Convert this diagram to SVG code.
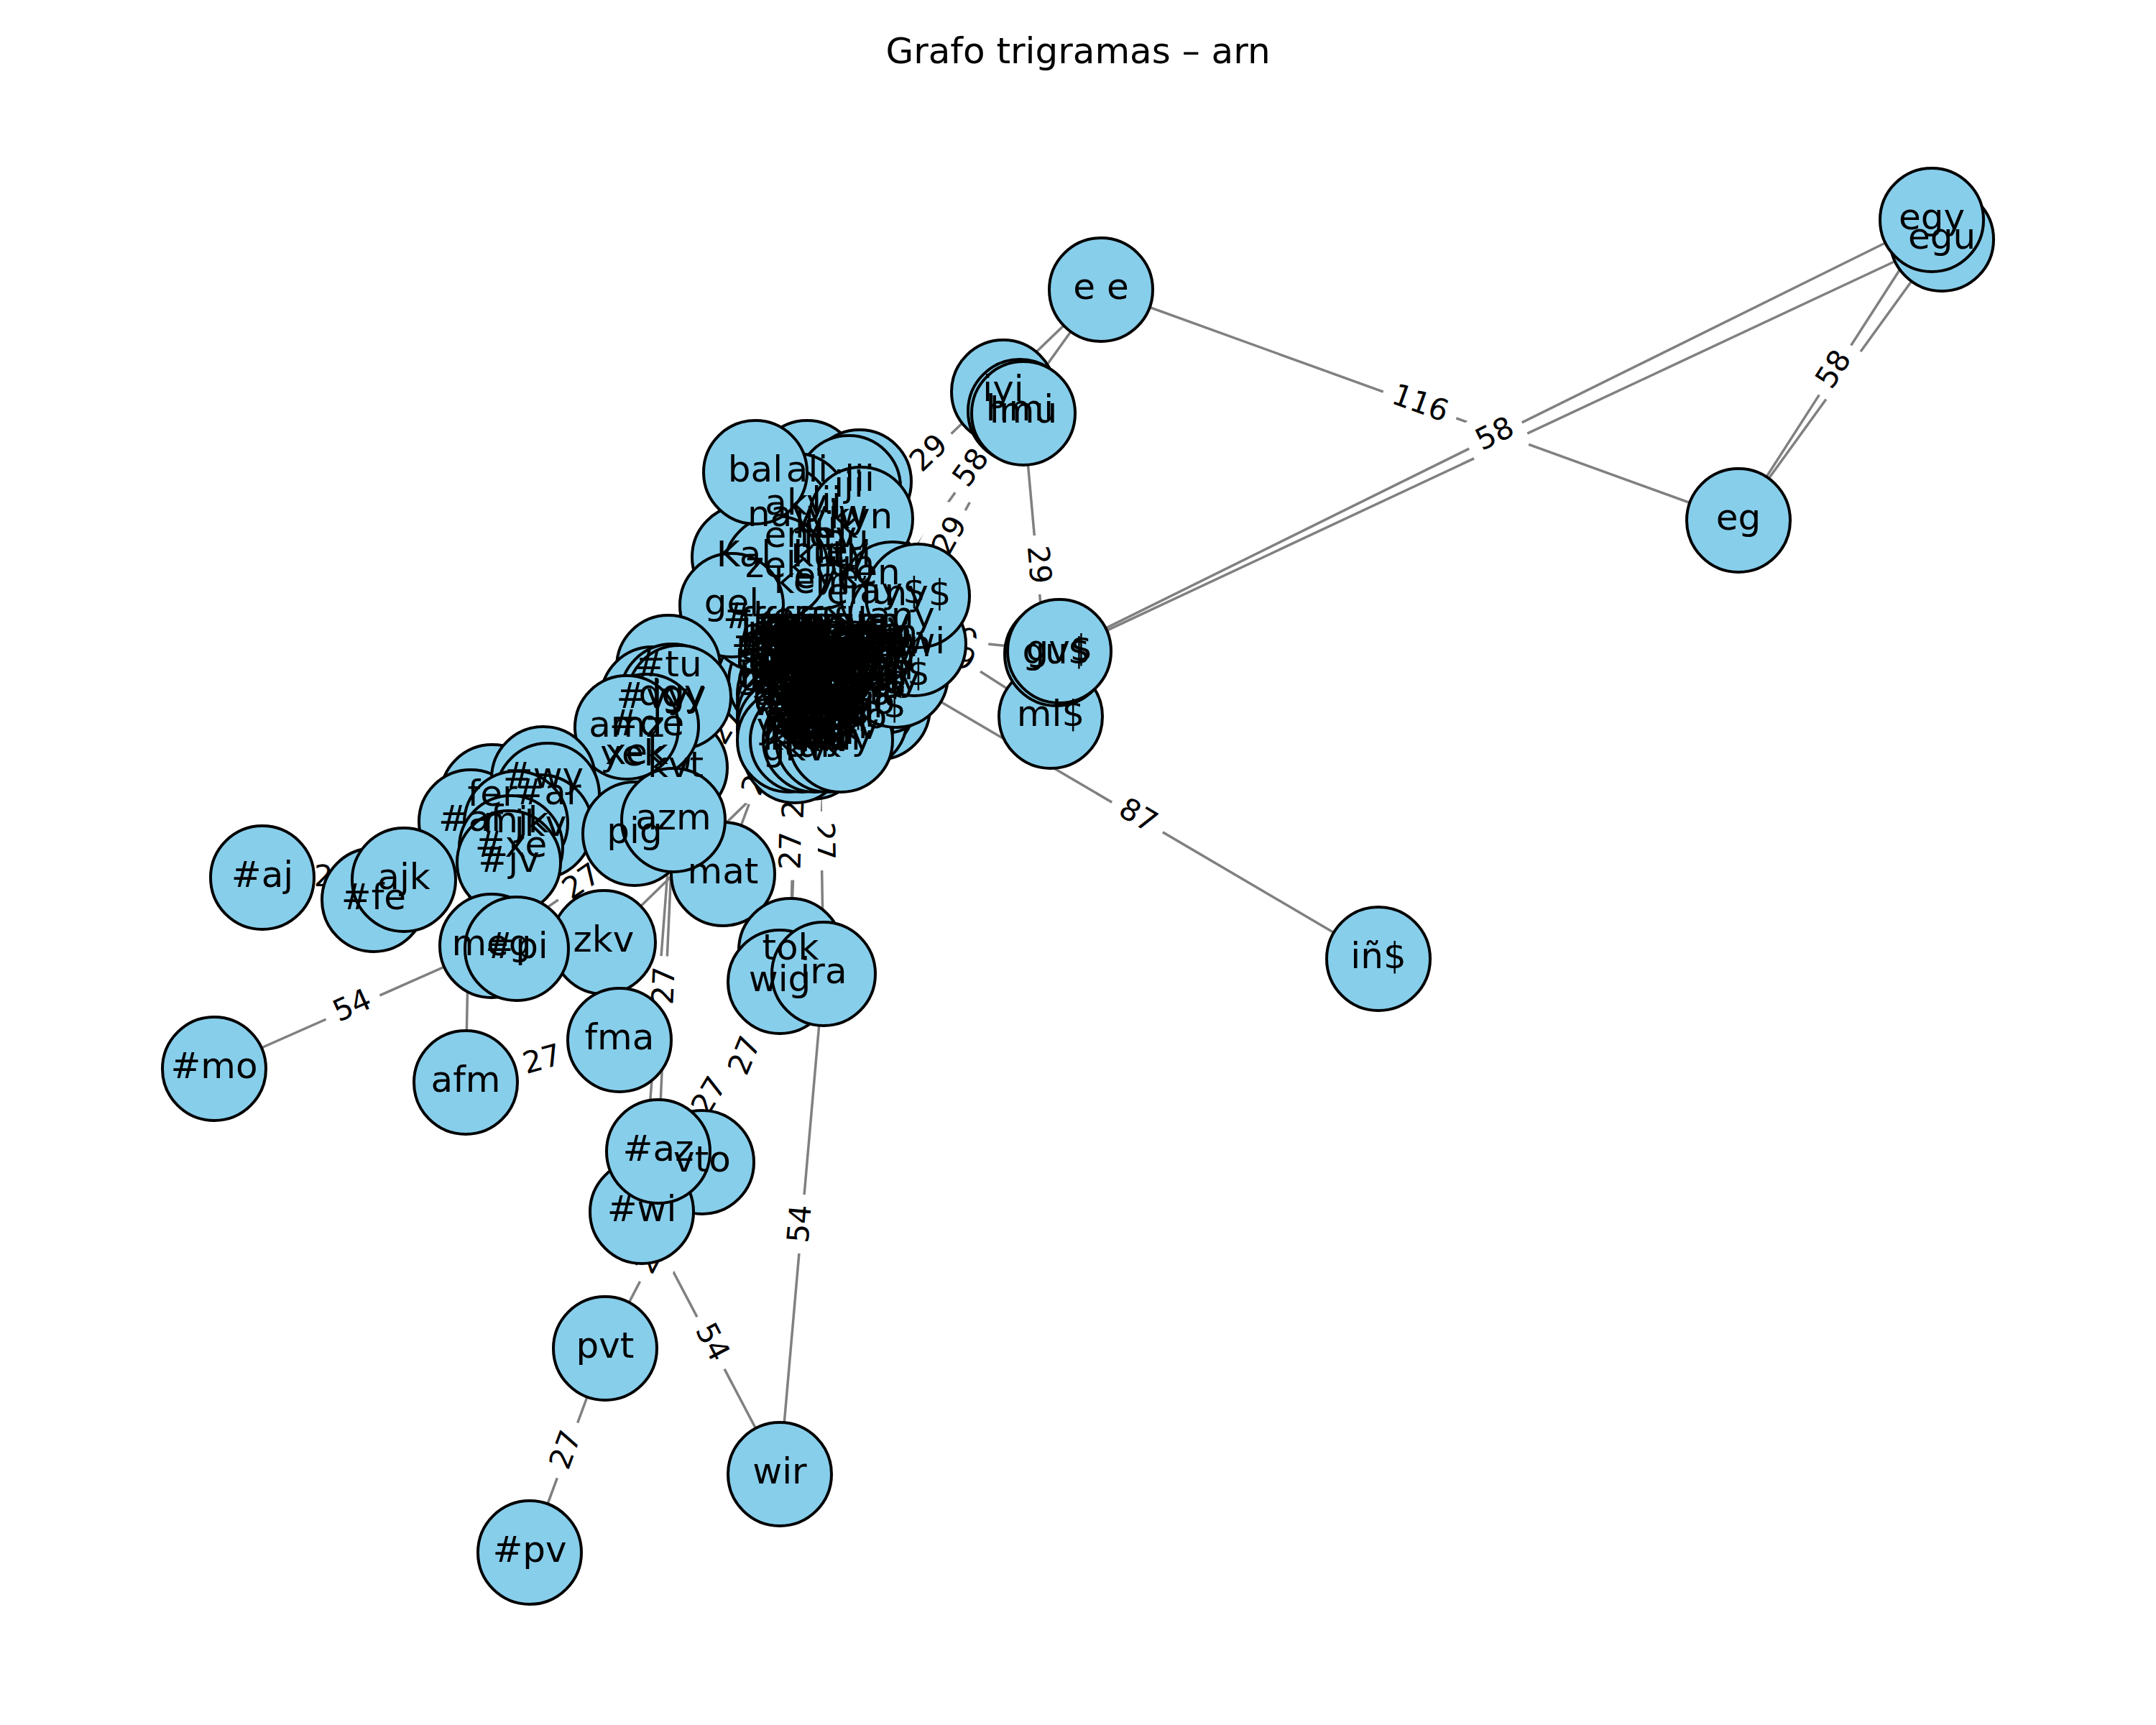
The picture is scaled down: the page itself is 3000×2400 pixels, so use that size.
<svg xmlns="http://www.w3.org/2000/svg" width="3000" height="2400" viewBox="0 0 3000 2400">
<style>
.e line{stroke:#808080;stroke-width:3.5;fill:none}
.el rect{fill:#fff;stroke:#fff;stroke-width:4}
.el text{font-family:"DejaVu Sans","Liberation Sans",sans-serif;font-size:41.7px;text-anchor:middle;fill:#000}
.n circle{fill:#87ceeb;stroke:#000;stroke-width:4}
.nl text{font-family:"DejaVu Sans","Liberation Sans",sans-serif;font-size:50px;text-anchor:middle;fill:#000}
.title{font-family:"DejaVu Sans","Liberation Sans",sans-serif;font-size:50px;text-anchor:middle;fill:#000}
</style>
<rect width="3000" height="2400" fill="#fff"/>
<text class="title" x="1500" y="88">Grafo trigramas – arn</text>

<g id="edges" class="e">
<line x1="1532" y1="403" x2="2419" y2="724"/>
<line x1="1474" y1="906" x2="2688" y2="306"/>
<line x1="1470" y1="910" x2="2702" y2="333"/>
<line x1="2419" y1="724" x2="2688" y2="306"/>
<line x1="2419" y1="724" x2="2702" y2="333"/>
<line x1="1532" y1="403" x2="1056" y2="861"/>
<line x1="1532" y1="403" x2="1174" y2="901"/>
<line x1="1419" y1="572" x2="1228" y2="920"/>
<line x1="1424" y1="575" x2="1462" y2="997"/>
<line x1="1195" y1="878" x2="1474" y2="906"/>
<line x1="1197" y1="827" x2="1462" y2="997"/>
<line x1="1247" y1="940" x2="1918" y2="1334"/>
<line x1="365" y1="1221" x2="562" y2="1224"/>
<line x1="298" y1="1487" x2="684" y2="1316"/>
<line x1="648" y1="1506" x2="655" y2="1143"/>
<line x1="648" y1="1506" x2="862" y2="1447"/>
<line x1="684" y1="1316" x2="937" y2="1141"/>
<line x1="916" y1="1602" x2="937" y2="1141"/>
<line x1="893" y1="1686" x2="940" y2="1068"/>
<line x1="977" y1="1617" x2="1100" y2="1322"/>
<line x1="893" y1="1686" x2="1085" y2="1366"/>
<line x1="842" y1="1876" x2="977" y2="1617"/>
<line x1="737" y1="2160" x2="842" y2="1876"/>
<line x1="893" y1="1686" x2="1085" y2="2051"/>
<line x1="1146" y1="1355" x2="1085" y2="2051"/>
<line x1="1140" y1="985" x2="1146" y2="1355"/>
<line x1="1106" y1="1045" x2="1100" y2="1322"/>
<line x1="1115" y1="904" x2="1100" y2="1322"/>
<line x1="840" y1="1311" x2="1192" y2="968"/>
<line x1="1006" y1="1216" x2="1107" y2="945"/>
<line x1="937" y1="1141" x2="1087" y2="879"/>
</g>

<g id="edge-labels" class="el">
<g transform="translate(1975.5 563.5) rotate(19.9)"><rect x="-52" y="-33" width="104" height="66" rx="12.5"/><text y="11">116</text></g>
<g transform="translate(2081 606) rotate(-26.3)"><rect x="-39" y="-33" width="78" height="66" rx="12.5"/><text y="11">58</text></g>
<g transform="translate(2553.5 515) rotate(-57.2)"><rect x="-39" y="-33" width="78" height="66" rx="12.5"/><text y="11">58</text></g>
<g transform="translate(1294 632) rotate(-43.9)"><rect x="-39" y="-33" width="78" height="66" rx="12.5"/><text y="11">29</text></g>
<g transform="translate(1353 652) rotate(-54.3)"><rect x="-39" y="-33" width="78" height="66" rx="12.5"/><text y="11">58</text></g>
<g transform="translate(1323.5 746) rotate(-61.2)"><rect x="-39" y="-33" width="78" height="66" rx="12.5"/><text y="11">29</text></g>
<g transform="translate(1443 786) rotate(84.9)"><rect x="-39" y="-33" width="78" height="66" rx="12.5"/><text y="11">29</text></g>
<g transform="translate(1334.5 892) rotate(5.7)"><rect x="-39" y="-33" width="78" height="66" rx="12.5"/><text y="11">29</text></g>
<g transform="translate(1329.5 912) rotate(32.7)"><rect x="-39" y="-33" width="78" height="66" rx="12.5"/><text y="11">29</text></g>
<g transform="translate(1582.5 1137) rotate(30.4)"><rect x="-39" y="-33" width="78" height="66" rx="12.5"/><text y="11">87</text></g>
<g transform="translate(463.5 1222.5) rotate(0.9)"><rect x="-39" y="-33" width="78" height="66" rx="12.5"/><text y="11">27</text></g>
<g transform="translate(491 1401.5) rotate(-23.9)"><rect x="-39" y="-33" width="78" height="66" rx="12.5"/><text y="11">54</text></g>
<g transform="translate(755 1476.5) rotate(-15.4)"><rect x="-39" y="-33" width="78" height="66" rx="12.5"/><text y="11">27</text></g>
<g transform="translate(810.5 1228.5) rotate(-34.7)"><rect x="-39" y="-33" width="78" height="66" rx="12.5"/><text y="11">27</text></g>
<g transform="translate(926.5 1371.5) rotate(-87.4)"><rect x="-39" y="-33" width="78" height="66" rx="12.5"/><text y="11">27</text></g>
<g transform="translate(1038.5 1469.5) rotate(-67.4)"><rect x="-39" y="-33" width="78" height="66" rx="12.5"/><text y="11">27</text></g>
<g transform="translate(989 1526) rotate(-59)"><rect x="-39" y="-33" width="78" height="66" rx="12.5"/><text y="11">27</text></g>
<g transform="translate(909.5 1746.5) rotate(-62.5)"><rect x="-39" y="-33" width="78" height="66" rx="12.5"/><text y="11">27</text></g>
<g transform="translate(789.5 2018) rotate(-69.7)"><rect x="-39" y="-33" width="78" height="66" rx="12.5"/><text y="11">27</text></g>
<g transform="translate(989 1868.5) rotate(62.3)"><rect x="-39" y="-33" width="78" height="66" rx="12.5"/><text y="11">54</text></g>
<g transform="translate(1115.5 1703) rotate(-85)"><rect x="-39" y="-33" width="78" height="66" rx="12.5"/><text y="11">54</text></g>
<g transform="translate(1143 1170) rotate(89.1)"><rect x="-39" y="-33" width="78" height="66" rx="12.5"/><text y="11">27</text></g>
<g transform="translate(1103 1183.5) rotate(-88.8)"><rect x="-39" y="-33" width="78" height="66" rx="12.5"/><text y="11">27</text></g>
<g transform="translate(1107.5 1113) rotate(-87.9)"><rect x="-39" y="-33" width="78" height="66" rx="12.5"/><text y="11">27</text></g>
<g transform="translate(1056.5 1080.5) rotate(-69.6)"><rect x="-39" y="-33" width="78" height="66" rx="12.5"/><text y="11">27</text></g>
<g transform="translate(1012 1010) rotate(-60.2)"><rect x="-39" y="-33" width="78" height="66" rx="12.5"/><text y="11">27</text></g>
</g>

<g id="nodes">
<g id="n-nga" class="n"><circle cx="1087" cy="879" r="72"/></g>
<g id="n-che" class="n"><circle cx="1100" cy="870" r="72"/></g>
<g id="n-ngu" class="n"><circle cx="1125" cy="876" r="72"/></g>
<g id="n-mew" class="n"><circle cx="1160" cy="872" r="72"/></g>
<g id="n-fey" class="n"><circle cx="1195" cy="878" r="72"/></g>
<g id="n-ley" class="n"><circle cx="1228" cy="875" r="72"/></g>
<g id="n-Hch" class="n"><circle cx="1068" cy="897" r="72"/></g>
<g id="n-wen" class="n"><circle cx="1115" cy="904" r="72"/></g>
<g id="n-tun" class="n"><circle cx="1174" cy="901" r="72"/></g>
<g id="n-pun" class="n"><circle cx="1205" cy="895" r="72"/></g>
<g id="n-mun" class="n"><circle cx="1240" cy="900" r="72"/></g>
<g id="n-ele" class="n"><circle cx="1062" cy="921" r="72"/></g>
<g id="n-nge" class="n"><circle cx="1098" cy="922" r="72"/></g>
<g id="n-ema" class="n"><circle cx="1135" cy="925" r="72"/></g>
<g id="n-eyu" class="n"><circle cx="1228" cy="920" r="72"/></g>
<g id="n-amu" class="n"><circle cx="1165" cy="930" r="72"/></g>
<g id="n-gem" class="n"><circle cx="1080" cy="944" r="72"/></g>
<g id="n-ple" class="n"><circle cx="1107" cy="945" r="72"/></g>
<g id="n-lle" class="n"><circle cx="1145" cy="948" r="72"/></g>
<g id="n-fil" class="n"><circle cx="1182" cy="950" r="72"/></g>
<g id="n-enS" class="n"><circle cx="1215" cy="952" r="72"/></g>
<g id="n-tew" class="n"><circle cx="1092" cy="968" r="72"/></g>
<g id="n-nie" class="n"><circle cx="1125" cy="970" r="72"/></g>
<g id="n-unS" class="n"><circle cx="1192" cy="968" r="72"/></g>
<g id="n-mal" class="n"><circle cx="1160" cy="972" r="72"/></g>
<g id="n-kim" class="n"><circle cx="1140" cy="985" r="72"/></g>
<g id="n-tak" class="n"><circle cx="1105" cy="992" r="72"/></g>
<g id="n-elS" class="n"><circle cx="1172" cy="995" r="72"/></g>
<g id="n-niS" class="n"><circle cx="1222" cy="985" r="72"/></g>
<g id="n-igk" class="n"><circle cx="1108" cy="1012" r="72"/></g>
<g id="n-ruf" class="n"><circle cx="1145" cy="1010" r="72"/></g>
<g id="n-ukv" class="n"><circle cx="1178" cy="1015" r="72"/></g>
<g id="n-kiv" class="n"><circle cx="1150" cy="1032" r="72"/></g>
<g id="n-tuk" class="n"><circle cx="1130" cy="1040" r="72"/></g>
<g id="n-gkv" class="n"><circle cx="1106" cy="1045" r="72"/></g>
<g id="n-aka" class="n"><circle cx="1080" cy="882" r="72"/></g>
<g id="n-ake" class="n"><circle cx="1100" cy="888" r="72"/></g>
<g id="n-aki" class="n"><circle cx="1120" cy="882" r="72"/></g>
<g id="n-ako" class="n"><circle cx="1140" cy="888" r="72"/></g>
<g id="n-aku" class="n"><circle cx="1160" cy="882" r="72"/></g>
<g id="n-ama" class="n"><circle cx="1180" cy="888" r="72"/></g>
<g id="n-ame" class="n"><circle cx="1200" cy="882" r="72"/></g>
<g id="n-ami" class="n"><circle cx="1220" cy="888" r="72"/></g>
<g id="n-amo" class="n"><circle cx="1085" cy="905" r="72"/></g>
<g id="n-ana" class="n"><circle cx="1105" cy="910" r="72"/></g>
<g id="n-ane" class="n"><circle cx="1125" cy="905" r="72"/></g>
<g id="n-ani" class="n"><circle cx="1145" cy="910" r="72"/></g>
<g id="n-ano" class="n"><circle cx="1165" cy="905" r="72"/></g>
<g id="n-anu" class="n"><circle cx="1185" cy="910" r="72"/></g>
<g id="n-apa" class="n"><circle cx="1205" cy="905" r="72"/></g>
<g id="n-ape" class="n"><circle cx="1225" cy="910" r="72"/></g>
<g id="n-api" class="n"><circle cx="1080" cy="928" r="72"/></g>
<g id="n-apo" class="n"><circle cx="1100" cy="933" r="72"/></g>
<g id="n-apu" class="n"><circle cx="1120" cy="928" r="72"/></g>
<g id="n-ara" class="n"><circle cx="1140" cy="933" r="72"/></g>
<g id="n-are" class="n"><circle cx="1160" cy="928" r="72"/></g>
<g id="n-ari" class="n"><circle cx="1180" cy="933" r="72"/></g>
<g id="n-aro" class="n"><circle cx="1200" cy="928" r="72"/></g>
<g id="n-aru" class="n"><circle cx="1220" cy="933" r="72"/></g>
<g id="n-ata" class="n"><circle cx="1090" cy="952" r="72"/></g>
<g id="n-ate" class="n"><circle cx="1110" cy="957" r="72"/></g>
<g id="n-ati" class="n"><circle cx="1130" cy="952" r="72"/></g>
<g id="n-ato" class="n"><circle cx="1150" cy="957" r="72"/></g>
<g id="n-atu" class="n"><circle cx="1170" cy="952" r="72"/></g>
<g id="n-awa" class="n"><circle cx="1190" cy="957" r="72"/></g>
<g id="n-awe" class="n"><circle cx="1210" cy="952" r="72"/></g>
<g id="n-awo" class="n"><circle cx="1100" cy="976" r="72"/></g>
<g id="n-awu" class="n"><circle cx="1120" cy="980" r="72"/></g>
<g id="n-aya" class="n"><circle cx="1140" cy="976" r="72"/></g>
<g id="n-aye" class="n"><circle cx="1160" cy="980" r="72"/></g>
<g id="n-ayi" class="n"><circle cx="1180" cy="976" r="72"/></g>
<g id="n-ayo" class="n"><circle cx="1200" cy="980" r="72"/></g>
<g id="n-ayu" class="n"><circle cx="1110" cy="1000" r="72"/></g>
<g id="n-eka" class="n"><circle cx="1130" cy="1004" r="72"/></g>
<g id="n-eke" class="n"><circle cx="1150" cy="1000" r="72"/></g>
<g id="n-eki" class="n"><circle cx="1170" cy="1004" r="72"/></g>
<g id="n-eko" class="n"><circle cx="1190" cy="1000" r="72"/></g>
<g id="n-eku" class="n"><circle cx="1120" cy="1022" r="72"/></g>
<g id="n-ela" class="n"><circle cx="1140" cy="1026" r="72"/></g>
<g id="n-eli" class="n"><circle cx="1160" cy="1022" r="72"/></g>
<g id="n-fan" class="n"><circle cx="1070" cy="868" r="72"/></g>
<g id="n-fay" class="n"><circle cx="1086" cy="868" r="72"/></g>
<g id="n-fen" class="n"><circle cx="1102" cy="868" r="72"/></g>
<g id="n-fin" class="n"><circle cx="1118" cy="868" r="72"/></g>
<g id="n-fiy" class="n"><circle cx="1134" cy="868" r="72"/></g>
<g id="n-fon" class="n"><circle cx="1150" cy="868" r="72"/></g>
<g id="n-foy" class="n"><circle cx="1166" cy="868" r="72"/></g>
<g id="n-fun" class="n"><circle cx="1182" cy="868" r="72"/></g>
<g id="n-fuy" class="n"><circle cx="1198" cy="868" r="72"/></g>
<g id="n-lan" class="n"><circle cx="1214" cy="868" r="72"/></g>
<g id="n-lay" class="n"><circle cx="1230" cy="868" r="72"/></g>
<g id="n-len" class="n"><circle cx="1070" cy="884" r="72"/></g>
<g id="n-lin" class="n"><circle cx="1086" cy="884" r="72"/></g>
<g id="n-liy" class="n"><circle cx="1102" cy="884" r="72"/></g>
<g id="n-lon" class="n"><circle cx="1118" cy="884" r="72"/></g>
<g id="n-loy" class="n"><circle cx="1134" cy="884" r="72"/></g>
<g id="n-lun" class="n"><circle cx="1150" cy="884" r="72"/></g>
<g id="n-luy" class="n"><circle cx="1166" cy="884" r="72"/></g>
<g id="n-man" class="n"><circle cx="1182" cy="884" r="72"/></g>
<g id="n-may" class="n"><circle cx="1198" cy="884" r="72"/></g>
<g id="n-men" class="n"><circle cx="1214" cy="884" r="72"/></g>
<g id="n-min" class="n"><circle cx="1230" cy="884" r="72"/></g>
<g id="n-miy" class="n"><circle cx="1070" cy="900" r="72"/></g>
<g id="n-mon" class="n"><circle cx="1086" cy="900" r="72"/></g>
<g id="n-moy" class="n"><circle cx="1102" cy="900" r="72"/></g>
<g id="n-muy" class="n"><circle cx="1118" cy="900" r="72"/></g>
<g id="n-nan" class="n"><circle cx="1134" cy="900" r="72"/></g>
<g id="n-nen" class="n"><circle cx="1150" cy="900" r="72"/></g>
<g id="n-ney" class="n"><circle cx="1166" cy="900" r="72"/></g>
<g id="n-nin" class="n"><circle cx="1182" cy="900" r="72"/></g>
<g id="n-niy" class="n"><circle cx="1198" cy="900" r="72"/></g>
<g id="n-non" class="n"><circle cx="1214" cy="900" r="72"/></g>
<g id="n-noy" class="n"><circle cx="1230" cy="900" r="72"/></g>
<g id="n-nun" class="n"><circle cx="1070" cy="916" r="72"/></g>
<g id="n-nuy" class="n"><circle cx="1086" cy="916" r="72"/></g>
<g id="n-pan" class="n"><circle cx="1102" cy="916" r="72"/></g>
<g id="n-pay" class="n"><circle cx="1118" cy="916" r="72"/></g>
<g id="n-pen" class="n"><circle cx="1134" cy="916" r="72"/></g>
<g id="n-pey" class="n"><circle cx="1150" cy="916" r="72"/></g>
<g id="n-pin" class="n"><circle cx="1166" cy="916" r="72"/></g>
<g id="n-piy" class="n"><circle cx="1182" cy="916" r="72"/></g>
<g id="n-pon" class="n"><circle cx="1198" cy="916" r="72"/></g>
<g id="n-poy" class="n"><circle cx="1214" cy="916" r="72"/></g>
<g id="n-puy" class="n"><circle cx="1230" cy="916" r="72"/></g>
<g id="n-ran" class="n"><circle cx="1070" cy="932" r="72"/></g>
<g id="n-ray" class="n"><circle cx="1086" cy="932" r="72"/></g>
<g id="n-ren" class="n"><circle cx="1102" cy="932" r="72"/></g>
<g id="n-rey" class="n"><circle cx="1118" cy="932" r="72"/></g>
<g id="n-rin" class="n"><circle cx="1134" cy="932" r="72"/></g>
<g id="n-riy" class="n"><circle cx="1150" cy="932" r="72"/></g>
<g id="n-ron" class="n"><circle cx="1166" cy="932" r="72"/></g>
<g id="n-roy" class="n"><circle cx="1182" cy="932" r="72"/></g>
<g id="n-run" class="n"><circle cx="1198" cy="932" r="72"/></g>
<g id="n-ruy" class="n"><circle cx="1214" cy="932" r="72"/></g>
<g id="n-tan" class="n"><circle cx="1230" cy="932" r="72"/></g>
<g id="n-tay" class="n"><circle cx="1070" cy="948" r="72"/></g>
<g id="n-ten" class="n"><circle cx="1086" cy="948" r="72"/></g>
<g id="n-tey" class="n"><circle cx="1102" cy="948" r="72"/></g>
<g id="n-tin" class="n"><circle cx="1118" cy="948" r="72"/></g>
<g id="n-tiy" class="n"><circle cx="1134" cy="948" r="72"/></g>
<g id="n-ton" class="n"><circle cx="1150" cy="948" r="72"/></g>
<g id="n-toy" class="n"><circle cx="1166" cy="948" r="72"/></g>
<g id="n-tuy" class="n"><circle cx="1182" cy="948" r="72"/></g>
<g id="n-wan" class="n"><circle cx="1198" cy="948" r="72"/></g>
<g id="n-way" class="n"><circle cx="1214" cy="948" r="72"/></g>
<g id="n-wey" class="n"><circle cx="1230" cy="948" r="72"/></g>
<g id="n-win" class="n"><circle cx="1098" cy="966" r="72"/></g>
<g id="n-wiy" class="n"><circle cx="1116" cy="966" r="72"/></g>
<g id="n-won" class="n"><circle cx="1134" cy="966" r="72"/></g>
<g id="n-woy" class="n"><circle cx="1152" cy="966" r="72"/></g>
<g id="n-wun" class="n"><circle cx="1170" cy="966" r="72"/></g>
<g id="n-wuy" class="n"><circle cx="1098" cy="982" r="72"/></g>
<g id="n-yan" class="n"><circle cx="1116" cy="982" r="72"/></g>
<g id="n-yay" class="n"><circle cx="1134" cy="982" r="72"/></g>
<g id="n-yen" class="n"><circle cx="1152" cy="982" r="72"/></g>
<g id="n-yey" class="n"><circle cx="1170" cy="982" r="72"/></g>
<g id="n-yin" class="n"><circle cx="1098" cy="998" r="72"/></g>
<g id="n-yiy" class="n"><circle cx="1116" cy="998" r="72"/></g>
<g id="n-yon" class="n"><circle cx="1134" cy="998" r="72"/></g>
<g id="n-yoy" class="n"><circle cx="1152" cy="998" r="72"/></g>
<g id="n-yun" class="n"><circle cx="1170" cy="998" r="72"/></g>
<g id="n-yuy" class="n"><circle cx="1098" cy="1014" r="72"/></g>
<g id="n-kan" class="n"><circle cx="1116" cy="1014" r="72"/></g>
<g id="n-kay" class="n"><circle cx="1134" cy="1014" r="72"/></g>
<g id="n-key" class="n"><circle cx="1152" cy="1014" r="72"/></g>
<g id="n-kin" class="n"><circle cx="1170" cy="1014" r="72"/></g>
<g id="n-kiy" class="n"><circle cx="1098" cy="1030" r="72"/></g>
<g id="n-kon" class="n"><circle cx="1116" cy="1030" r="72"/></g>
<g id="n-koy" class="n"><circle cx="1134" cy="1030" r="72"/></g>
<g id="n-kun" class="n"><circle cx="1152" cy="1030" r="72"/></g>
<g id="n-kuy" class="n"><circle cx="1170" cy="1030" r="72"/></g>
<g id="n-lij" class="n"><circle cx="1150" cy="700" r="72"/></g>
<g id="n-yiw" class="n"><circle cx="1165" cy="718" r="72"/></g>
<g id="n-kuk" class="n"><circle cx="1150" cy="735" r="72"/></g>
<g id="n-inu" class="n"><circle cx="1170" cy="752" r="72"/></g>
<g id="n-mey" class="n"><circle cx="1155" cy="770" r="72"/></g>
<g id="n-run2" class="n"><circle cx="1175" cy="788" r="72"/></g>
<g id="n-eye" class="n"><circle cx="1150" cy="805" r="72"/></g>
<g id="n-tri" class="n"><circle cx="1185" cy="775" r="72"/></g>
<g id="n-enu" class="n"><circle cx="1197" cy="827" r="72"/></g>
<g id="n-Hke" class="n"><circle cx="1056" cy="861" r="72"/></g>
<g id="n-ene" class="n"><circle cx="1110" cy="748" r="72"/></g>
<g id="n-lev" class="n"><circle cx="1155" cy="748" r="72"/></g>
<g id="n-kem" class="n"><circle cx="1130" cy="812" r="72"/></g>
<g id="n-ken" class="n"><circle cx="1208" cy="800" r="72"/></g>
<g id="n-kui" class="n"><circle cx="1140" cy="775" r="72"/></g>
<g id="n-ali" class="n"><circle cx="1123" cy="657" r="72"/></g>
<g id="n-lii" class="n"><circle cx="1196" cy="670" r="72"/></g>
<g id="n-iji" class="n"><circle cx="1181" cy="678" r="72"/></g>
<g id="n-aky" class="n"><circle cx="1108" cy="703" r="72"/></g>
<g id="n-nay" class="n"><circle cx="1086" cy="719" r="72"/></g>
<g id="n-kyn" class="n"><circle cx="1198" cy="722" r="72"/></g>
<g id="n-Kal" class="n"><circle cx="1035" cy="775" r="72"/></g>
<g id="n-zek" class="n"><circle cx="1080" cy="790" r="72"/></g>
<g id="n-gel" class="n"><circle cx="1018" cy="842" r="72"/></g>
<g id="n-ayS" class="n"><circle cx="1242" cy="826" r="72"/></g>
<g id="n-any" class="n"><circle cx="1255" cy="860" r="72"/></g>
<g id="n-anS" class="n"><circle cx="1247" cy="940" r="72"/></g>
<g id="n-uwi" class="n"><circle cx="1272" cy="896" r="72"/></g>
<g id="n-nyS" class="n"><circle cx="1277" cy="829" r="72"/></g>
<g id="n-bal" class="n"><circle cx="1051" cy="657" r="72"/></g>
<g id="n-Htu" class="n"><circle cx="930" cy="928" r="72"/></g>
<g id="n-kvt" class="n"><circle cx="940" cy="1068" r="72"/></g>
<g id="n-xek" class="n"><circle cx="886" cy="1050" r="72"/></g>
<g id="n-yek" class="n"><circle cx="880" cy="1052" r="72"/></g>
<g id="n-Hvy" class="n"><circle cx="908" cy="972" r="72"/></g>
<g id="n-dgy" class="n"><circle cx="935" cy="968" r="72"/></g>
<g id="n-igy" class="n"><circle cx="945" cy="970" r="72"/></g>
<g id="n-Hde" class="n"><circle cx="900" cy="1010" r="72"/></g>
<g id="n-amz" class="n"><circle cx="872" cy="1012" r="72"/></g>
<g id="n-fer" class="n"><circle cx="685" cy="1108" r="72"/></g>
<g id="n-Haf" class="n"><circle cx="655" cy="1143" r="72"/></g>
<g id="n-Hwy" class="n"><circle cx="756" cy="1083" r="72"/></g>
<g id="n-Har" class="n"><circle cx="762" cy="1106" r="72"/></g>
<g id="n-jkv" class="n"><circle cx="752" cy="1150" r="72"/></g>
<g id="n-mjk" class="n"><circle cx="718" cy="1145" r="72"/></g>
<g id="n-Hxe" class="n"><circle cx="711" cy="1179" r="72"/></g>
<g id="n-Hjv" class="n"><circle cx="708" cy="1200" r="72"/></g>
<g id="n-pig" class="n"><circle cx="883" cy="1160" r="72"/></g>
<g id="n-mat" class="n"><circle cx="1006" cy="1216" r="72"/></g>
<g id="n-azm" class="n"><circle cx="937" cy="1141" r="72"/></g>
<g id="n-zkv" class="n"><circle cx="840" cy="1311" r="72"/></g>
<g id="n-meg" class="n"><circle cx="684" cy="1316" r="72"/></g>
<g id="n-Hpi" class="n"><circle cx="719" cy="1320" r="72"/></g>
<g id="n-afm" class="n"><circle cx="648" cy="1506" r="72"/></g>
<g id="n-fma" class="n"><circle cx="862" cy="1447" r="72"/></g>
<g id="n-Hmo" class="n"><circle cx="298" cy="1487" r="72"/></g>
<g id="n-Haj" class="n"><circle cx="365" cy="1221" r="72"/></g>
<g id="n-Hfe" class="n"><circle cx="520" cy="1252" r="72"/></g>
<g id="n-ajk" class="n"><circle cx="562" cy="1224" r="72"/></g>
<g id="n-tok" class="n"><circle cx="1100" cy="1322" r="72"/></g>
<g id="n-wig" class="n"><circle cx="1085" cy="1366" r="72"/></g>
<g id="n-ira" class="n"><circle cx="1146" cy="1355" r="72"/></g>
<g id="n-vto" class="n"><circle cx="977" cy="1617" r="72"/></g>
<g id="n-Hwi" class="n"><circle cx="893" cy="1686" r="72"/></g>
<g id="n-Haz" class="n"><circle cx="916" cy="1602" r="72"/></g>
<g id="n-pvt" class="n"><circle cx="842" cy="1876" r="72"/></g>
<g id="n-Hpv" class="n"><circle cx="737" cy="2160" r="72"/></g>
<g id="n-wir" class="n"><circle cx="1085" cy="2051" r="72"/></g>
<g id="n-iyi" class="n"><circle cx="1396" cy="545" r="72"/></g>
<g id="n-hmi" class="n"><circle cx="1419" cy="572" r="72"/></g>
<g id="n-lmu" class="n"><circle cx="1424" cy="575" r="72"/></g>
<g id="n-ee" class="n"><circle cx="1532" cy="403" r="72"/></g>
<g id="n-mlS" class="n"><circle cx="1462" cy="997" r="72"/></g>
<g id="n-guS" class="n"><circle cx="1470" cy="910" r="72"/></g>
<g id="n-gvS" class="n"><circle cx="1474" cy="906" r="72"/></g>
<g id="n-inS" class="n"><circle cx="1918" cy="1334" r="72"/></g>
<g id="n-eg" class="n"><circle cx="2419" cy="724" r="72"/></g>
<g id="n-egu" class="n"><circle cx="2702" cy="333" r="72"/></g>
<g id="n-egy" class="n"><circle cx="2688" cy="306" r="72"/></g>
</g>

<g id="node-labels" class="nl">
<text x="1087" y="892">nga</text>
<text x="1100" y="883">che</text>
<text x="1125" y="889">ngu</text>
<text x="1160" y="885">mew</text>
<text x="1195" y="891">fey</text>
<text x="1228" y="888">ley</text>
<text x="1068" y="910">#ch</text>
<text x="1115" y="917">wen</text>
<text x="1174" y="914">tun</text>
<text x="1205" y="908">pun</text>
<text x="1240" y="913">mun</text>
<text x="1062" y="934">ele</text>
<text x="1098" y="935">nge</text>
<text x="1135" y="938">ema</text>
<text x="1228" y="933">eyu</text>
<text x="1165" y="943">amu</text>
<text x="1080" y="957">gem</text>
<text x="1107" y="958">ple</text>
<text x="1145" y="961">lle</text>
<text x="1182" y="963">fil</text>
<text x="1215" y="965">en$</text>
<text x="1092" y="981">tew</text>
<text x="1125" y="983">nie</text>
<text x="1192" y="981">un$</text>
<text x="1160" y="985">mal</text>
<text x="1140" y="998">kim</text>
<text x="1105" y="1005">tak</text>
<text x="1172" y="1008">el$</text>
<text x="1222" y="998">ñi$</text>
<text x="1108" y="1025">igk</text>
<text x="1145" y="1023">rüf</text>
<text x="1178" y="1028">ukv</text>
<text x="1150" y="1045">kiv</text>
<text x="1130" y="1053">tuk</text>
<text x="1106" y="1058">gkv</text>
<text x="1080" y="895">aka</text>
<text x="1100" y="901">ake</text>
<text x="1120" y="895">aki</text>
<text x="1140" y="901">ako</text>
<text x="1160" y="895">aku</text>
<text x="1180" y="901">ama</text>
<text x="1200" y="895">ame</text>
<text x="1220" y="901">ami</text>
<text x="1085" y="918">amo</text>
<text x="1105" y="923">ana</text>
<text x="1125" y="918">ane</text>
<text x="1145" y="923">ani</text>
<text x="1165" y="918">ano</text>
<text x="1185" y="923">anu</text>
<text x="1205" y="918">apa</text>
<text x="1225" y="923">ape</text>
<text x="1080" y="941">api</text>
<text x="1100" y="946">apo</text>
<text x="1120" y="941">apu</text>
<text x="1140" y="946">ara</text>
<text x="1160" y="941">are</text>
<text x="1180" y="946">ari</text>
<text x="1200" y="941">aro</text>
<text x="1220" y="946">aru</text>
<text x="1090" y="965">ata</text>
<text x="1110" y="970">ate</text>
<text x="1130" y="965">ati</text>
<text x="1150" y="970">ato</text>
<text x="1170" y="965">atu</text>
<text x="1190" y="970">awa</text>
<text x="1210" y="965">awe</text>
<text x="1100" y="989">awo</text>
<text x="1120" y="993">awu</text>
<text x="1140" y="989">aya</text>
<text x="1160" y="993">aye</text>
<text x="1180" y="989">ayi</text>
<text x="1200" y="993">ayo</text>
<text x="1110" y="1013">ayu</text>
<text x="1130" y="1017">eka</text>
<text x="1150" y="1013">eke</text>
<text x="1170" y="1017">eki</text>
<text x="1190" y="1013">eko</text>
<text x="1120" y="1035">eku</text>
<text x="1140" y="1039">ela</text>
<text x="1160" y="1035">eli</text>
<text x="1070" y="881">fan</text><text x="1086" y="881">fay</text><text x="1102" y="881">fen</text><text x="1118" y="881">fin</text><text x="1134" y="881">fiy</text><text x="1150" y="881">fon</text><text x="1166" y="881">foy</text><text x="1182" y="881">fun</text><text x="1198" y="881">fuy</text><text x="1214" y="881">lan</text><text x="1230" y="881">lay</text>
<text x="1070" y="897">len</text><text x="1086" y="897">lin</text><text x="1102" y="897">liy</text><text x="1118" y="897">lon</text><text x="1134" y="897">loy</text><text x="1150" y="897">lun</text><text x="1166" y="897">luy</text><text x="1182" y="897">man</text><text x="1198" y="897">may</text><text x="1214" y="897">men</text><text x="1230" y="897">min</text>
<text x="1070" y="913">miy</text><text x="1086" y="913">mon</text><text x="1102" y="913">moy</text><text x="1118" y="913">muy</text><text x="1134" y="913">nan</text><text x="1150" y="913">nen</text><text x="1166" y="913">ney</text><text x="1182" y="913">nin</text><text x="1198" y="913">niy</text><text x="1214" y="913">non</text><text x="1230" y="913">noy</text>
<text x="1070" y="929">nun</text><text x="1086" y="929">nuy</text><text x="1102" y="929">pan</text><text x="1118" y="929">pay</text><text x="1134" y="929">pen</text><text x="1150" y="929">pey</text><text x="1166" y="929">pin</text><text x="1182" y="929">piy</text><text x="1198" y="929">pon</text><text x="1214" y="929">poy</text><text x="1230" y="929">puy</text>
<text x="1070" y="945">ran</text><text x="1086" y="945">ray</text><text x="1102" y="945">ren</text><text x="1118" y="945">rey</text><text x="1134" y="945">rin</text><text x="1150" y="945">riy</text><text x="1166" y="945">ron</text><text x="1182" y="945">roy</text><text x="1198" y="945">run</text><text x="1214" y="945">ruy</text><text x="1230" y="945">tan</text>
<text x="1070" y="961">tay</text><text x="1086" y="961">ten</text><text x="1102" y="961">tey</text><text x="1118" y="961">tin</text><text x="1134" y="961">tiy</text><text x="1150" y="961">ton</text><text x="1166" y="961">toy</text><text x="1182" y="961">tuy</text><text x="1198" y="961">wan</text><text x="1214" y="961">way</text><text x="1230" y="961">wey</text>
<text x="1098" y="979">win</text><text x="1116" y="979">wiy</text><text x="1134" y="979">won</text><text x="1152" y="979">woy</text><text x="1170" y="979">wun</text>
<text x="1098" y="995">wuy</text><text x="1116" y="995">yan</text><text x="1134" y="995">yay</text><text x="1152" y="995">yen</text><text x="1170" y="995">yey</text>
<text x="1098" y="1011">yin</text><text x="1116" y="1011">yiy</text><text x="1134" y="1011">yon</text><text x="1152" y="1011">yoy</text><text x="1170" y="1011">yun</text>
<text x="1098" y="1027">yuy</text><text x="1116" y="1027">kan</text><text x="1134" y="1027">kay</text><text x="1152" y="1027">key</text><text x="1170" y="1027">kin</text>
<text x="1098" y="1043">kiy</text><text x="1116" y="1043">kon</text><text x="1134" y="1043">koy</text><text x="1152" y="1043">kun</text><text x="1170" y="1043">kuy</text>
<text x="1150" y="713">lij</text>
<text x="1165" y="731">yiw</text>
<text x="1150" y="748">kük</text>
<text x="1170" y="765">inu</text>
<text x="1155" y="783">mey</text>
<text x="1175" y="801">rün</text>
<text x="1150" y="818">eye</text>
<text x="1185" y="788">tri</text>
<text x="1197" y="840">eñu</text>
<text x="1056" y="874">#ke</text>
<text x="1110" y="761">ene</text>
<text x="1155" y="761">lev</text>
<text x="1130" y="825">kem</text>
<text x="1208" y="813">ken</text>
<text x="1140" y="788">kui</text>
<text x="1123" y="670">ali</text>
<text x="1196" y="683">lii</text>
<text x="1181" y="691">iji</text>
<text x="1108" y="716">aky</text>
<text x="1086" y="732">nay</text>
<text x="1198" y="735">kyn</text>
<text x="1035" y="788">Kal</text>
<text x="1080" y="803">zek</text>
<text x="1018" y="855">gel</text>
<text x="1242" y="839">ay$</text>
<text x="1255" y="873">any</text>
<text x="1247" y="953">an$</text>
<text x="1272" y="909">uwi</text>
<text x="1277" y="842">ny$</text>
<text x="1051" y="670">bal</text>
<text x="930" y="941">#tu</text>
<text x="940" y="1081">kvt</text>
<text x="886" y="1063">xek</text>
<text x="880" y="1065">yek</text>
<text x="908" y="985">#vy</text>
<text x="935" y="981">dgy</text>
<text x="945" y="983">igy</text>
<text x="900" y="1023">#de</text>
<text x="872" y="1025">amz</text>
<text x="685" y="1121">fer</text>
<text x="655" y="1156">#af</text>
<text x="756" y="1096">#wy</text>
<text x="762" y="1119">#ar</text>
<text x="752" y="1163">jkv</text>
<text x="718" y="1158">mjk</text>
<text x="711" y="1192">#xe</text>
<text x="708" y="1213">#jv</text>
<text x="883" y="1173">pig</text>
<text x="1006" y="1229">mat</text>
<text x="937" y="1154">azm</text>
<text x="840" y="1324">zkv</text>
<text x="684" y="1329">meg</text>
<text x="719" y="1333">#pi</text>
<text x="648" y="1519">afm</text>
<text x="862" y="1460">fma</text>
<text x="298" y="1500">#mo</text>
<text x="365" y="1234">#aj</text>
<text x="520" y="1265">#fe</text>
<text x="562" y="1237">ajk</text>
<text x="1100" y="1335">tok</text>
<text x="1085" y="1379">wig</text>
<text x="1146" y="1368">ira</text>
<text x="977" y="1630">vto</text>
<text x="893" y="1699">#wi</text>
<text x="916" y="1615">#az</text>
<text x="842" y="1889">pvt</text>
<text x="737" y="2173">#pv</text>
<text x="1085" y="2064">wir</text>
<text x="1396" y="558">iyi</text>
<text x="1419" y="585">hmi</text>
<text x="1424" y="588">lmu</text>
<text x="1532" y="416">e e</text>
<text x="1462" y="1010">ml$</text>
<text x="1470" y="923">gu$</text>
<text x="1474" y="919">gv$</text>
<text x="1918" y="1347">iñ$</text>
<text x="2419" y="737">eg</text>
<text x="2702" y="346">egu</text>
<text x="2688" y="319">egy</text>
</g>
</svg>
